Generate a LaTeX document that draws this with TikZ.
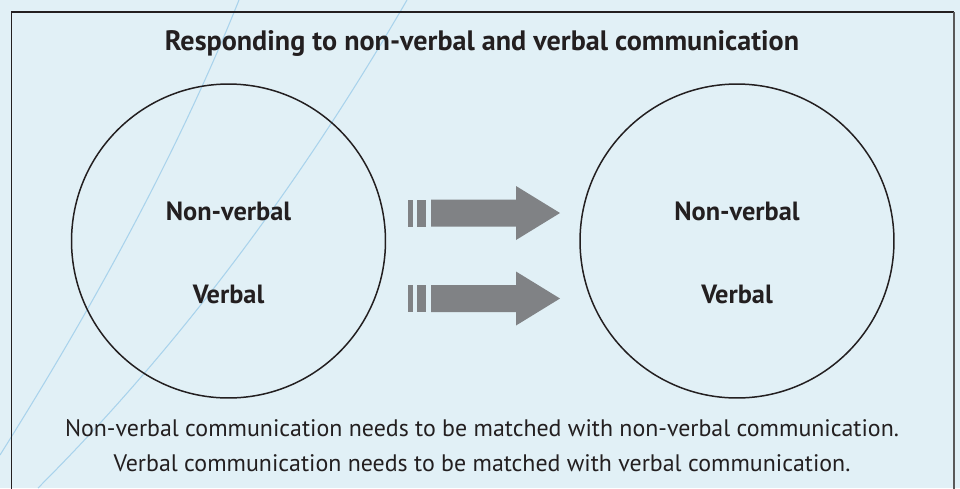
\documentclass[tikz,border=0pt]{standalone}
\usepackage{fontspec}
\setmainfont{PT Sans}
\usetikzlibrary{positioning}
\definecolor{paleblue}{HTML}{E1F0F6}
\definecolor{swirl}{HTML}{A9D3EC}
\definecolor{ink}{HTML}{231F20}
\definecolor{arrowgray}{HTML}{808285}

\begin{document}
\begin{tikzpicture}
	[x=0.02cm,y=-0.02cm,
	bubble/.style={circle,draw=ink,line width=0.85pt,minimum size=6.28cm,inner sep=0pt},
	lbl/.style={font=\fontsize{15}{18}\selectfont\bfseries,text=ink,anchor=base},
	note/.style={font=\fontsize{13.6}{16}\selectfont,text=ink,anchor=base}]

	\fill[paleblue] (0,0) rectangle (960,488);
	\useasboundingbox (0,0) rectangle (960,488);

	% background swirls
	\draw[swirl,line width=0.6pt] (239,0) .. controls (183.7,138) and (104,289.7) .. (0,455);
	\draw[swirl,line width=0.6pt] (407,0) .. controls (297.7,188.7) and (174.7,351.3) .. (38,488);

	% open frame
	\draw[ink,line width=0.7pt] (11.5,492) -- (11.5,12) -- (954,12);
	\draw[black!65,line width=1.4pt] (954,12) -- (954,492);

	\node[lbl,font=\fontsize{16}{19}\selectfont\bfseries] (title) at (482,50) {Responding to non-verbal and verbal communication};

	\node[bubble] (left) at (228.5,241) {};
	\node[bubble] (right) at (737,241) {};

	\node[lbl] (lnv) at (228.5,220) {Non-verbal};
	\node[lbl] (lv) at (228.5,303) {Verbal};
	\node[lbl] (rnv) at (737,220) {Non-verbal};
	\node[lbl] (rv) at (737,303) {Verbal};

	% block arrows
	\foreach \y in {213,298.5} {
		\fill[arrowgray] (408,\y-13.5) rectangle (413,\y+13.5);
		\fill[arrowgray] (417,\y-13.5) rectangle (426,\y+13.5);
		\fill[arrowgray] (431,\y-13.5) -- (516,\y-13.5) -- (516,\y-27) -- (560,\y)
			-- (516,\y+27) -- (516,\y+13.5) -- (431,\y+13.5) -- cycle;
	}

	\node[note] (n1) at (482,436) {Non-verbal communication needs to be matched with non-verbal communication.};
	\node[note] (n2) at (482,471) {Verbal communication needs to be matched with verbal communication.};

\end{tikzpicture}
\end{document}
